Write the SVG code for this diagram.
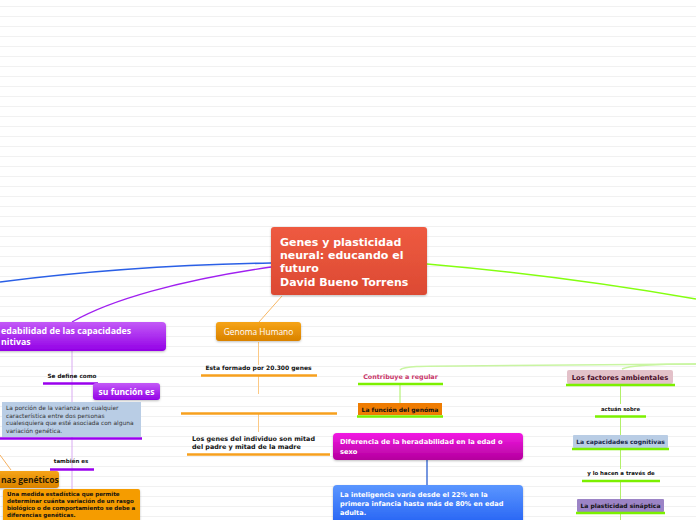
<svg xmlns="http://www.w3.org/2000/svg" width="696" height="520" viewBox="0 0 696 520">
<style>
.d{font-family:"DejaVu Sans","Verdana",sans-serif;font-weight:bold}
.dr{font-family:"DejaVu Sans","Verdana",sans-serif}
.o{font-family:"Open Sans","Liberation Sans",sans-serif}
.w{fill:#ffffff}
.k{fill:#111111}
.ulp{stroke:#9a00ee;stroke-width:2.6;fill:none}
.ulo{stroke:#f7a01e;stroke-width:2.6;fill:none}
.ulg{stroke:#7cf000;stroke-width:2.6;fill:none}
</style>
<defs>
<pattern id="lines" x="0" y="6" width="696" height="10" patternUnits="userSpaceOnUse">
<rect x="0" y="0" width="696" height="1" fill="#f1f1f1"/>
</pattern>
<linearGradient id="gC" x1="0" y1="0" x2="0" y2="1"><stop offset="0" stop-color="#ee5a40"/><stop offset="1" stop-color="#dc4a33"/></linearGradient>
<linearGradient id="gP" x1="0" y1="0" x2="0" y2="1"><stop offset="0" stop-color="#c35af7"/><stop offset="1" stop-color="#9300e6"/></linearGradient>
<linearGradient id="gO" x1="0" y1="0" x2="0" y2="1"><stop offset="0" stop-color="#f6a416"/><stop offset="1" stop-color="#d98200"/></linearGradient>
<linearGradient id="gM" x1="0" y1="0" x2="0" y2="1"><stop offset="0" stop-color="#f21ae4"/><stop offset="1" stop-color="#b4009d"/></linearGradient>
<linearGradient id="gB" x1="0" y1="0" x2="0" y2="1"><stop offset="0" stop-color="#5b96ff"/><stop offset="1" stop-color="#1e5cf2"/></linearGradient>
<filter id="sh" x="-10%" y="-10%" width="120%" height="140%"><feDropShadow dx="0" dy="1" stdDeviation="0.8" flood-color="#000" flood-opacity="0.25"/></filter>
</defs>
<rect width="696" height="520" fill="#ffffff"/>
<rect width="696" height="520" fill="url(#lines)"/>

<g id="connectors" fill="none">
<path d="M271,263 C160,265 70,273 0,282" stroke="#2a5fe6" stroke-width="1.6"/>
<path d="M271,267 C180,280 110,300 72,322" stroke="#a020f0" stroke-width="1.3"/>
<path d="M282,296 L259,322" stroke="#f8b865" stroke-width="1"/>
<path d="M427,264 C520,272 610,284 696,299" stroke="#84ff10" stroke-width="1.6"/>
<path d="M400,370 C404,366 420,366 460,366 L696,364" stroke="#c9f5a2" stroke-width="1.5"/>
<path d="M622,369 C630,365 660,364 696,364" stroke="#c9f5a2" stroke-width="1.5"/>
<path d="M72,351 V520" stroke="#d9aaf2" stroke-width="1"/>
<path d="M258.5,342 V365 M258.5,376 V394 M258.5,414 V432" stroke="#fcc984" stroke-width="1"/>
<path d="M0,455 L11,470" stroke="#f5b060" stroke-width="1"/>
<path d="M400,385 V403" stroke="#a8f060" stroke-width="1"/>
<path d="M427,460 V485" stroke="#2c5fcf" stroke-width="1.3"/>
<path d="M620.5,386 V404 M620.5,417 V435 M620.5,449 V469 M620.5,482 V499 M620.5,514 V520" stroke="#b2f06a" stroke-width="1"/>
</g>

<g id="central">
<rect x="271" y="227" width="156" height="68" rx="3" fill="url(#gC)" filter="url(#sh)"/>
<text class="d w" font-size="11"><tspan x="280" y="246">Genes y plasticidad</tspan><tspan x="280" y="259">neural: educando el</tspan><tspan x="280" y="272">futuro</tspan><tspan x="280" y="285.5">David Bueno Torrens</tspan></text>
</g>

<g id="heredabilidad">
<rect x="-10" y="322" width="176" height="29" rx="4" fill="url(#gP)" filter="url(#sh)"/>
<text class="o w" font-weight="bold" font-size="8.8"><tspan x="1" y="334">edabilidad de las capacidades</tspan><tspan x="1" y="344.5">nitivas</tspan></text>
</g>

<g id="se-define">
<text class="d k" font-size="5.7" x="72" y="378" text-anchor="middle">Se define como</text>
<path class="ulp" d="M43,383.5 H98"/>
</g>

<g id="su-funcion">
<rect x="93" y="383" width="67" height="17" rx="3" fill="url(#gP)" filter="url(#sh)"/>
<text class="o w" font-weight="bold" font-size="8.5" x="126.5" y="394.5" text-anchor="middle">su función es</text>
</g>

<g id="porcion">
<rect x="2" y="402" width="139" height="35" fill="#b9cde5"/>
<text class="dr" fill="#333" font-size="5.9"><tspan x="6" y="410">La porción de la varianza en cualquier</tspan><tspan x="6" y="417.5">característica entre dos personas</tspan><tspan x="6" y="425">cualesquiera que esté asociada con alguna</tspan><tspan x="6" y="432.5">variación genética.</tspan></text>
<path class="ulp" d="M0,438.5 H142"/>
</g>

<g id="tambien">
<text class="d k" font-size="5.5" x="71" y="463" text-anchor="middle">también es</text>
<path class="ulp" d="M50,469.5 H94"/>
</g>

<g id="geneticos">
<rect x="-8" y="471" width="67" height="17" rx="3" fill="url(#gO)" filter="url(#sh)"/>
<text class="o" font-weight="bold" fill="#2a1a00" font-size="8.5" x="1" y="482.5">nas genéticos</text>
</g>

<g id="medida">
<rect x="3" y="489" width="137" height="36" rx="2" fill="#f59c06" filter="url(#sh)"/>
<text class="d k" font-size="5.5"><tspan x="7" y="496">Una medida estadística que permite</tspan><tspan x="7" y="503">determinar cuánta variación de un rasgo</tspan><tspan x="7" y="510">biológico o de comportamiento se debe a</tspan><tspan x="7" y="517">diferencias genéticas.</tspan></text>
</g>

<g id="genoma">
<rect x="216" y="322" width="85" height="19" rx="3" fill="url(#gO)" filter="url(#sh)"/>
<text class="o w" font-size="8.4" x="258.5" y="335" text-anchor="middle">Genoma Humano</text>
</g>

<g id="formado">
<text class="d k" font-size="6" x="258.5" y="369.5" text-anchor="middle">Esta formado por 20.300 genes</text>
<path class="ulo" d="M201,375.5 H317"/>
</g>

<g id="vacio">
<path class="ulo" d="M181,413.5 H337"/>
</g>

<g id="mitad">
<text class="d k" font-size="6.4"><tspan x="192" y="440.5">Los genes del individuo son mitad</tspan><tspan x="192" y="448.5">del padre y mitad de la madre</tspan></text>
<path class="ulo" d="M187,454.5 H330"/>
</g>

<g id="contribuye">
<text class="d" fill="#c8366a" font-size="6.4" x="400.5" y="378.5" text-anchor="middle">Contribuye a regular</text>
<path class="ulg" d="M358,384 H443"/>
</g>

<g id="funcion-genoma">
<rect x="358" y="403" width="84" height="12" fill="#ef7c02"/>
<text class="d k" font-size="6" x="400" y="411.5" text-anchor="middle">La función del genóma</text>
<path class="ulg" d="M357,416.5 H443"/>
</g>

<g id="diferencia">
<rect x="333" y="433" width="190" height="27" rx="4" fill="url(#gM)" filter="url(#sh)"/>
<text class="d w" font-size="6.7"><tspan x="340" y="444">Diferencia de la heradabilidad en la edad o</tspan><tspan x="340" y="453.5">sexo</tspan></text>
</g>

<g id="inteligencia">
<rect x="333" y="485" width="190" height="45" rx="4" fill="url(#gB)" filter="url(#sh)"/>
<text class="d w" font-size="6.6"><tspan x="340" y="497">La inteligencia varía desde el 22% en la</tspan><tspan x="340" y="506">primera infancia hasta más de 80% en edad</tspan><tspan x="340" y="514.5">adulta.</tspan></text>
</g>

<g id="factores">
<rect x="567" y="370" width="106" height="14" rx="2" fill="#e3c1c9"/>
<text class="d" fill="#4a0e2a" font-size="6.8" x="620" y="379.5" text-anchor="middle">Los factores ambientales</text>
<path class="ulg" d="M566,385 H675"/>
</g>

<g id="actuan">
<text class="d k" font-size="5.3" x="620.5" y="411" text-anchor="middle">actuán sobre</text>
<path class="ulg" d="M595,416.5 H646"/>
</g>

<g id="capacidades">
<rect x="573" y="435" width="95" height="13" rx="1" fill="#b9cde5"/>
<text class="d" fill="#1a2a4a" font-size="6" x="620.5" y="443.5" text-anchor="middle">La capacidades cognitivas</text>
<path class="ulg" d="M572,449 H669"/>
</g>

<g id="traves">
<text class="d k" font-size="5.45" x="621" y="475" text-anchor="middle">y lo hacen a través de</text>
<path class="ulg" d="M582,481 H660"/>
</g>

<g id="plasticidad">
<rect x="577" y="499" width="87" height="13" rx="1" fill="#9c84c6"/>
<text class="d k" font-size="6" x="620.5" y="507.5" text-anchor="middle">La plasticidad sináptica</text>
<path class="ulg" d="M576,513 H665"/>
</g>
</svg>
